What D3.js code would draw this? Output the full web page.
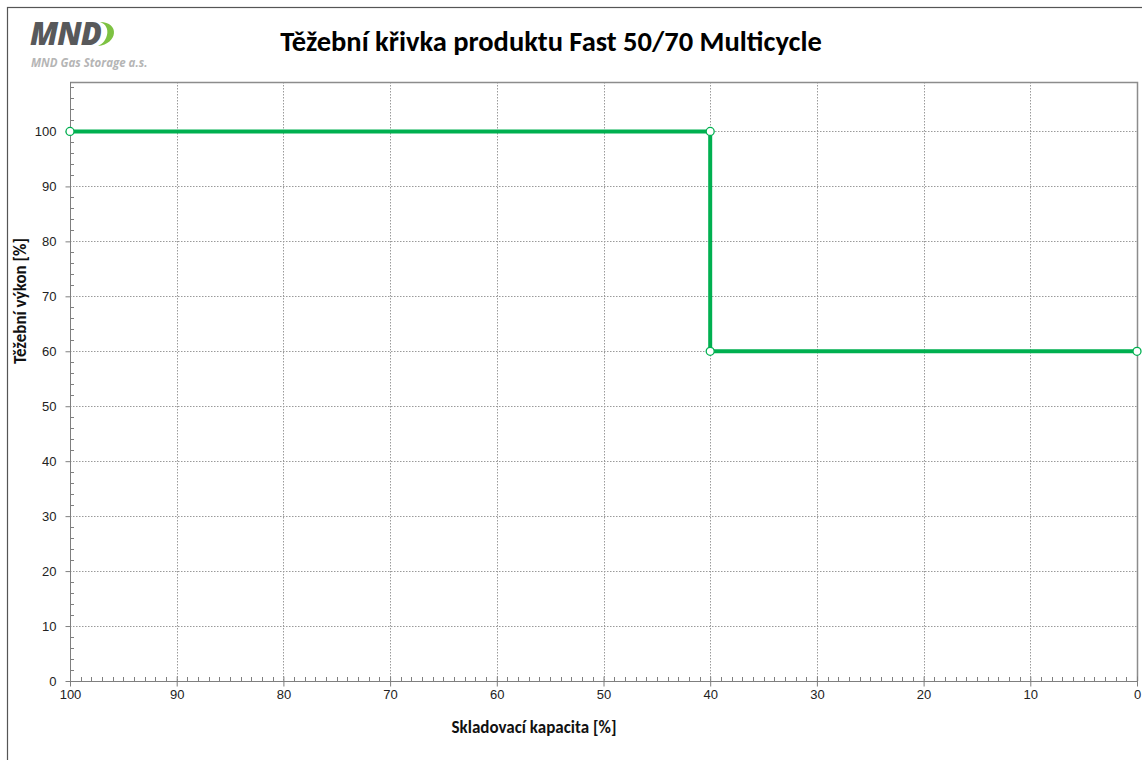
<!DOCTYPE html>
<html lang="cs">
<head>
  <meta charset="UTF-8">
  <title>Těžební křivka produktu Fast 50/70 Multicycle</title>
  <script src="https://d3js.org/d3.v7.min.js"></script>
  <style>
    body { margin: 0; background: #fff; }
    .tick text { font-family: "Liberation Sans", Arial, sans-serif; font-size: 13px; fill: #222; }
    .grid line { stroke: #9a9a9a; stroke-dasharray: 1.5 1.5; }
    .axis path, .axis line { stroke: #7f7f7f; }
  </style>
</head>
<body>
  <svg width="1142" height="760"></svg>
  <script>
    // storage capacity [%] vs withdrawal rate [%]
    const capacity = [100, 40, 40, 0];
    const rate = [100, 100, 60, 60];
    const xTicks = [100, 90, 80, 70, 60, 50, 40, 30, 20, 10, 0];
    const yTicks = [0, 10, 20, 30, 40, 50, 60, 70, 80, 90, 100];

    const points = capacity.map((c, i) => ({ x: c, y: rate[i] }));

    const svg = d3.select("svg");
    const plot = { left: 70, right: 1137, top: 82, bottom: 681 };

    // outer frame
    svg.append("rect")
      .attr("x", 7.5).attr("y", 7.5)
      .attr("width", 1150).attr("height", 800)
      .attr("fill", "none").attr("stroke", "#555").attr("stroke-width", 1.2);

    const x = d3.scaleLinear().domain([100, 0]).range([plot.left, plot.right]);
    const y = d3.scaleLinear().domain([0, 109]).range([plot.bottom, plot.top]);

    // grid
    svg.append("g").attr("class", "grid")
      .selectAll("line").data(xTicks.filter(d => d !== 100 && d !== 0)).join("line")
      .attr("x1", d => Math.round(x(d)) + 0.5).attr("x2", d => Math.round(x(d)) + 0.5)
      .attr("y1", plot.top).attr("y2", plot.bottom);
    svg.append("g").attr("class", "grid")
      .selectAll("line").data(yTicks.filter(d => d !== 0)).join("line")
      .attr("x1", plot.left).attr("x2", plot.right)
      .attr("y1", d => Math.round(y(d)) + 0.5).attr("y2", d => Math.round(y(d)) + 0.5);

    // plot border top / right
    svg.append("path")
      .attr("d", `M${plot.left},${plot.top + 0.5}H${plot.right + 0.5}V${plot.bottom}`)
      .attr("fill", "none").attr("stroke", "#8c8c8c").attr("stroke-width", 1.5);

    // minor ticks
    const minorX = d3.range(0, 101, 1).filter(d => d % 10 !== 0);
    svg.append("g").attr("class", "axis")
      .selectAll("line").data(minorX).join("line")
      .attr("x1", d => Math.round(x(d)) + 0.5).attr("x2", d => Math.round(x(d)) + 0.5)
      .attr("y1", plot.bottom).attr("y2", plot.bottom - 4);
    const minorY = d3.range(0, 109, 2).filter(d => d % 10 !== 0);
    svg.append("g").attr("class", "axis")
      .selectAll("line").data(minorY).join("line")
      .attr("x1", plot.left).attr("x2", plot.left + 4)
      .attr("y1", d => Math.round(y(d)) + 0.5).attr("y2", d => Math.round(y(d)) + 0.5);

    // axes
    const xAxis = svg.append("g").attr("class", "axis")
      .attr("transform", `translate(0,${plot.bottom + 0.5})`)
      .call(d3.axisBottom(x).tickValues(xTicks).tickSize(5).tickSizeOuter(0).tickPadding(3));
    xAxis.selectAll(".tick line").attr("y1", -5);
    const yAxis = svg.append("g").attr("class", "axis")
      .attr("transform", `translate(${plot.left + 0.5},0)`)
      .call(d3.axisLeft(y).tickValues(yTicks).tickSize(5).tickSizeOuter(0).tickPadding(9));
    yAxis.select(".domain").attr("d", `M0,${plot.top}V${plot.bottom}`);
    xAxis.select(".domain").attr("d", `M${plot.left},0H${plot.right}`);

    // series
    const line = d3.line().x(d => x(d.x)).y(d => y(d.y));
    svg.append("path").datum(points)
      .attr("d", line)
      .attr("fill", "none").attr("stroke", "#00b050").attr("stroke-width", 4);
    svg.selectAll(".pt").data(points).join("circle")
      .attr("class", "pt")
      .attr("cx", d => x(d.x)).attr("cy", d => y(d.y)).attr("r", 4)
      .attr("fill", "#fff").attr("stroke", "#00b050").attr("stroke-width", 1.3);

    // titles
    svg.append("text")
      .attr("x", 551).attr("y", 51).attr("text-anchor", "middle")
      .attr("font-family", "Carlito, 'Open Sans', sans-serif").attr("font-weight", "bold")
      .attr("font-size", 28.5).attr("fill", "#000")
      .text("Těžební křivka produktu Fast 50/70 Multicycle");
    svg.append("text")
      .attr("x", 534).attr("y", 733).attr("text-anchor", "middle")
      .attr("font-family", "Carlito, 'Open Sans', sans-serif").attr("font-weight", "bold")
      .attr("font-size", 17).attr("fill", "#111")
      .text("Skladovací kapacita [%]");
    svg.append("text")
      .attr("transform", "translate(26,301) rotate(-90)").attr("text-anchor", "middle")
      .attr("font-family", "Carlito, 'Open Sans', sans-serif").attr("font-weight", "bold")
      .attr("font-size", 17).attr("fill", "#111")
      .text("Těžební výkon [%]");

    // logo
    const logo = svg.append("g");
    logo.append("text")
      .attr("x", 30).attr("y", 45)
      .attr("font-family", "'Open Sans', sans-serif").attr("font-weight", "800")
      .attr("font-style", "italic").attr("font-size", 31).attr("letter-spacing", -1)
      .attr("fill", "#58595b")
      .text("MND");
    logo.append("path")
      .attr("d", "M100,22 C120,22 118,44 98,46 C108,42 112,26 100,22 Z")
      .attr("fill", "#7dc242");
    logo.append("text")
      .attr("x", 31).attr("y", 67)
      .attr("font-family", "'Open Sans', sans-serif").attr("font-weight", "bold")
      .attr("font-style", "italic").attr("font-size", 11.5)
      .attr("fill", "#b5b5b5")
      .text("MND Gas Storage a.s.");
  </script>
</body>
</html>
